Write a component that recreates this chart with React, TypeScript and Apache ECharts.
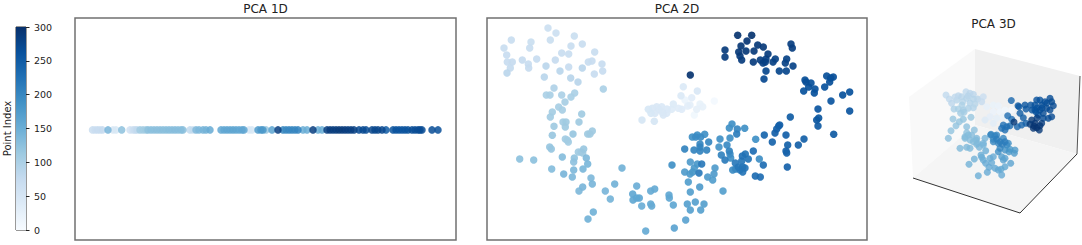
import React, { useEffect, useRef } from "react";
import * as echarts from "echarts";

const blues = ["#f7fbff", "#deebf7", "#c6dbef", "#9ecae1", "#6baed6", "#4292c6", "#2171b5", "#08519c", "#08306b"];
const colorbarTicks = [0, 50, 100, 150, 200, 250, 300];

// [position along PC1, point index]
const pca1d = [
  [17.5, 70], [20, 65], [22.5, 72], [25, 68], [27.5, 74], [33, 140], [38, 45], [41, 48], [46.7, 125],
  [55, 60], [58, 66], [60, 72], [62, 80], [65, 110], [68, 108], [71, 112], [73, 125], [76, 127], [79, 124],
  [82, 128], [85, 126], [88, 129], [91, 127], [94, 130], [97, 128], [100, 131], [103, 127], [106, 130], [108, 128],
  [115, 80], [118, 70], [121, 135], [124, 138], [128, 142], [131, 145], [135, 155],
  [146, 160], [149, 158], [152, 162], [155, 160], [158, 163], [161, 160], [164, 158], [167, 162], [169, 160],
  [174, 45], [177, 48], [183, 175], [186, 178], [188, 180], [191, 115],
  [197, 165], [203, 285], [208, 200], [211, 198], [214, 202], [217, 200], [220, 197], [223, 203],
  [228, 150], [232, 152], [238, 285], [243, 150], [247, 152],
  [252, 285], [255, 288], [258, 283], [261, 286], [264, 290], [267, 284], [270, 287], [273, 282], [276, 285], [279, 280],
  [284, 270], [288, 272], [291, 268], [297, 275], [300, 272], [303, 276], [307, 274], [311, 250],
  [318, 260], [321, 262], [324, 258], [327, 261], [330, 259], [333, 263],
  [337, 268], [340, 266], [343, 270], [345, 267], [347, 269], [357, 268], [363, 265],
];

// [PC1, PC2, point index]
const pca2dCentre = [
  [227.3, 139, 6], [207.3, 125, 10], [198, 140, 16], [213, 136, 22], [215.7, 133.3, 24], [209.7, 130.7, 26], [203, 135, 28],
  [200.7, 134, 30], [204.7, 142.3, 32], [194.7, 130.7, 34], [191.3, 131.7, 36], [184.7, 130.7, 38], [186.3, 136, 40],
  [196.3, 153.3, 42], [194, 144.3, 42], [210.3, 149, 46], [179.7, 126.7, 44], [176.3, 125, 46], [174.7, 133.3, 44],
  [169.7, 133.3, 46], [172, 130.7, 46], [168, 126.7, 46], [165.3, 131.7, 46], [164, 126.7, 48], [161.3, 130.7, 48],
  [180, 131, 44], [175, 128, 46], [167.3, 118.7, 50], [155, 120, 50],
];
const pca2dUpperLeft = [
  [61, 212, 66], [69, 207, 66], [87.3, 204, 68], [24.3, 200, 70], [44, 198, 68], [63.3, 200, 68], [42.7, 192, 70],
  [84, 194, 70], [95.3, 196, 70], [17, 192, 70], [74.7, 187, 70], [81.7, 186, 70], [107.7, 188, 70], [19.7, 185, 72],
  [35.3, 180, 74], [49.7, 181, 72], [68.3, 180, 74], [20.3, 178, 72], [25.3, 178, 74], [41.3, 176, 72], [59, 174, 85],
  [101.3, 178, 72], [105, 179, 72], [115, 176, 72], [41.7, 172, 74], [23.3, 172, 76], [81.7, 173, 72], [95.3, 172, 85],
  [20, 167, 85], [73, 169, 86], [115.7, 169, 72], [107.3, 166, 72], [57.3, 163, 86], [83.7, 162, 88], [91, 158, 88],
  [67, 152, 96], [116.3, 151, 100], [59.3, 145, 100], [63, 145, 102], [74.7, 145, 100], [87.7, 147, 100], [84, 143, 102],
  [78, 138, 104], [71.7, 133, 104], [75.3, 130, 104], [65.3, 128, 106], [63.3, 123, 108], [94.7, 126, 110],
  [76, 118, 108], [79, 118, 110], [92, 118, 112],
];
const pca2dLowerLeft = [
  [67, 113.7, 112], [78.3, 113, 112], [65.3, 104.7, 116], [86, 106, 118], [100.7, 106, 112], [103, 106, 112], [105.3, 109, 112],
  [78.3, 101, 108], [80.3, 100, 108], [81.3, 98, 108], [62.7, 93, 118], [64.3, 91, 118], [96.7, 91, 116], [91.3, 88, 110],
  [94, 88, 110], [95.7, 87, 112], [32.7, 81, 125], [46.7, 80, 125], [75.3, 83, 130], [87.3, 82, 122], [86.7, 78, 124],
  [99.3, 82, 135], [100.7, 76, 138], [64.7, 71, 130], [86.7, 70, 135], [96, 71, 138], [135, 72, 145], [185, 75, 190],
  [76.7, 66, 140], [85.3, 63, 135], [104, 62, 135], [105.3, 56, 140], [127.7, 56, 145], [149.7, 54, 150], [95.7, 53, 140],
  [92, 49, 135], [118.3, 49, 140], [167.7, 51, 155], [163.7, 49, 155], [145.7, 46, 158], [146, 40, 158], [149.7, 42, 160],
  [152.3, 42, 160], [182, 45, 160], [182.3, 42, 160], [123.3, 41, 142], [163.7, 36, 155], [164.7, 34, 155], [154.7, 34, 150],
  [186.3, 35, 160], [106.3, 28, 145], [101, 21, 145], [187.3, 12, 165], [158.7, 9, 155],
];
const pca2dMiddle = [
  [245, 116, 190], [250.3, 111, 200], [257.7, 111.7, 190], [242.3, 112, 190], [249.7, 106, 210], [243, 102, 190], [233, 101, 190],
  [205.3, 103, 190], [210.3, 105, 190], [217.7, 105.7, 190], [208.7, 103, 195], [213.7, 103, 195], [221.7, 98, 200],
  [213, 96, 200], [213, 93, 205], [197.7, 91, 205], [207, 90, 205], [213, 89, 205], [219.7, 90, 205], [232, 93, 185],
  [240, 95, 195], [242.3, 89, 205], [243, 86, 195], [266.3, 89, 228], [234.3, 85, 205], [238, 80, 212], [258.3, 86, 222],
  [255.3, 84, 225], [261.3, 81, 222], [243.7, 82, 190], [272.3, 81, 192], [248.3, 77, 215], [254.7, 79, 218], [251.3, 73, 218],
  [255.7, 73, 220], [258, 72, 222], [248.7, 71, 200], [253, 70, 215], [245.7, 70, 195], [255.7, 68, 220], [276.3, 75, 230],
  [203.3, 78, 175], [214.7, 76, 215], [210.3, 76, 180], [228, 72, 175], [207.3, 72, 178], [205.7, 68, 180], [203, 66, 178],
  [197.7, 68, 175], [212, 67, 215], [227, 66, 175], [220.7, 63, 175], [225.7, 60, 172], [268.3, 64, 230], [273.3, 63, 230],
  [201.3, 58, 172], [212.7, 53, 175], [203.3, 48, 170], [236, 49, 170], [208.3, 38, 168], [200.3, 36, 168], [217, 36, 170],
  [203.3, 30, 168], [213.7, 30, 168], [198.7, 20, 165],
];
const pca2dRight = [
  [300.3, 73, 242], [292.7, 115, 245], [291.7, 114, 245], [289.7, 111, 245], [288, 107, 245], [277.3, 105, 238], [299, 105, 245],
  [285.3, 98, 240], [268.7, 100.7, 190], [317, 101, 246], [311.3, 95, 246], [300.7, 95, 244], [299, 89, 242], [299.7, 87, 242],
  [346.7, 105.7, 252], [331, 114, 252], [331, 131, 258], [362.7, 129, 258], [303.3, 123, 250], [331.7, 122, 256], [329.7, 120, 256],
  [344, 139, 258], [362.7, 148, 262], [355.7, 145, 262], [337.7, 153, 262], [339.7, 164, 265], [346.3, 163, 265], [343.7, 162, 265],
  [342.7, 158, 265], [316.7, 149, 262], [327.3, 147, 262], [328, 151, 262], [321.7, 153, 264], [324, 157, 264], [319, 158, 266],
  [318, 160, 266],
];
const pca2dTop = [
  [277, 161, 272], [279, 169, 275], [292.3, 169, 275], [299.3, 169, 275], [306, 174, 278], [298.3, 177, 280], [299.7, 181, 280],
  [286, 178, 280], [288.3, 181, 280], [278.3, 178, 282], [276, 177, 282], [279, 181, 282], [273.3, 180, 284], [266.3, 178, 286],
  [281, 186, 286], [254.7, 180, 286], [253, 184, 288], [238, 183, 286], [267, 189, 288], [259, 189, 290], [251.7, 188, 290],
  [238, 190, 288], [305.3, 192, 284], [304, 196, 284], [276.3, 193, 290], [270.7, 195, 290], [254, 194, 292], [260, 199, 294],
  [264.7, 204.7, 296], [250.7, 204.7, 296], [203.3, 165, 296],
];

// [projected horizontal, projected vertical, point index]
const pca3dUpperLeft = [
  [41, 125, 80], [44.3, 121, 82], [46.7, 116.7, 85], [53.3, 124.3, 85], [56.7, 123.3, 88], [61, 128.3, 80], [65, 126.7, 85],
  [68.3, 125.7, 85], [57.7, 118.3, 90], [61.7, 121.7, 92], [68.3, 121, 92], [72.7, 121, 88], [78.3, 123.3, 70], [76.7, 118.3, 75],
  [51.7, 120, 90], [49, 111, 100], [53.3, 111, 102], [58.3, 110, 105], [63.3, 111.7, 100], [68.3, 112.3, 95], [55.7, 106.7, 110],
  [59, 107.7, 108], [65, 117, 95], [57, 115, 98], [70, 116, 90], [50, 123, 82], [63, 124, 88],
];
const pca3dCentre = [
  [81.7, 113.3, 25], [88.3, 115, 22], [93.3, 114.3, 20], [88.3, 108.3, 18], [95, 108.3, 15], [100, 110, 12], [85, 103.3, 30],
  [91.7, 101.7, 28], [98.3, 103.3, 22], [80, 100, 40], [88.3, 96.7, 35], [106.7, 110, 8], [103.3, 100, 12],
];
const pca3dLowerLeft = [
  [48, 101, 118], [58.3, 100.7, 120], [54.3, 98.3, 120], [66, 102.7, 118], [51, 94.3, 122], [46, 89.3, 122], [61.7, 93.3, 125],
  [61.7, 87.3, 125], [43.3, 81.7, 128], [63.3, 85, 130], [66.7, 85, 130], [60, 83.3, 130], [65, 80, 130], [71, 80, 135],
  [71.7, 75.7, 135], [69.3, 90, 125], [71.7, 81.7, 135], [68.3, 78.3, 132], [60, 81.7, 132], [72.7, 76.7, 135], [78.3, 75, 138],
  [74.3, 72.7, 138], [55, 71.7, 135], [61.7, 72.7, 135], [65, 71.7, 135], [80, 81.7, 140], [78.3, 76.7, 140],
];
const pca3dLowerMiddle = [
  [80.7, 69.3, 150], [69.3, 61, 145], [64, 55.7, 145], [76, 65, 150], [78.3, 60, 150], [85, 61.7, 152], [88.3, 63.3, 155],
  [76.7, 62.7, 150], [80.7, 56.7, 155], [86.7, 57.3, 155], [84, 52.7, 155], [90, 51.7, 158], [98.3, 60, 165], [96.7, 63.3, 170],
  [100, 61.7, 165], [105.7, 56.7, 165], [100, 53.3, 160], [96, 50.7, 160], [82.3, 47.7, 155], [73.3, 44.3, 150], [96.7, 45, 155],
  [93.3, 50, 158],
];
const pca3dMiddle = [
  [110, 70, 175], [109.3, 66.7, 175], [105, 70.7, 180], [104, 68.3, 180], [100, 70, 185], [93.3, 68.3, 190], [103.3, 76.7, 190],
  [86, 85.7, 195], [88.3, 80.7, 195], [101.7, 75, 195], [91.7, 85, 200], [95, 71.7, 200], [88.3, 78.3, 200], [98.3, 81.7, 205],
  [93.3, 76.7, 205], [85.7, 85, 205], [90, 84.3, 205], [97.3, 75.7, 210], [91.7, 81, 210], [95, 78.3, 210], [100, 78.3, 212],
];
const pca3dRight = [
  [98.3, 95, 225], [101.7, 93.3, 225], [96.7, 91.7, 225], [102.7, 104.3, 228], [106.7, 100.7, 228], [100, 90, 228], [105, 94.3, 232],
  [106.3, 119.5, 235], [112.3, 93.3, 235], [116.7, 95, 240], [121, 96.7, 245], [113, 114.3, 250], [115, 106.7, 250], [118.3, 102.3, 250],
  [114, 113.3, 255], [121, 111, 255], [120, 115, 258], [125.7, 115, 258], [127, 110, 258], [131.7, 120, 262], [135, 120, 262],
  [130, 115, 262], [130, 110, 262], [133.3, 105, 262], [132, 112, 262], [131, 108, 262], [136.7, 115, 265], [140, 118.3, 265],
  [135, 110, 265], [137, 112, 265], [142, 117, 265], [145, 121.7, 268], [146.7, 118.3, 268], [141.7, 111.7, 268], [138.3, 106.7, 268],
  [143.3, 101.7, 268], [138.3, 101.7, 268], [148.3, 114.3, 270], [145, 110, 270], [146.7, 103.3, 270],
];
const pca3dNavy = [
  [109, 98, 290], [132, 102, 285], [136.7, 96.7, 285], [126.7, 100, 290], [125, 95.7, 290], [134.3, 90, 290], [130, 96.7, 292],
  [135, 94.3, 292], [128.3, 91.7, 292], [131.7, 92.3, 295], [129, 94, 295],
];

export default function App() {
  const ref = useRef<HTMLDivElement>(null);
  useEffect(() => {
    const chart = echarts.init(ref.current!, undefined, { renderer: "svg" });
    const font = "'DejaVu Sans'";
    const titleStyle = { fontFamily: font, fontSize: 12, fontWeight: "normal", color: "#222" };
    const box = { show: true, borderColor: "#707070", borderWidth: 1.5, backgroundColor: "#fff" };
    const hiddenAxis = (extra: object) => ({ show: false, ...extra });
    const scatter = (xAxisIndex: number, data: number[][], symbolSize: number, opacity: number) => ({
      type: "scatter",
      xAxisIndex,
      yAxisIndex: xAxisIndex,
      data,
      symbolSize,
      itemStyle: { opacity },
      silent: true,
      z: 3,
    });
    const by = (rows: number[][], idx: number) => [...rows].sort((a, b) => a[idx] - b[idx]);
    const pca2d = by(
      [...pca2dCentre, ...pca2dUpperLeft, ...pca2dLowerLeft, ...pca2dMiddle, ...pca2dRight, ...pca2dTop],
      2,
    );
    const pca1dRows = by(pca1d.map(([x, i]) => [x, -0.008, i]), 2);
    const pca3d = [
      ...pca3dCentre, ...pca3dUpperLeft, ...pca3dLowerLeft, ...pca3dLowerMiddle, ...pca3dMiddle, ...pca3dRight, ...pca3dNavy,
    ];
    const stops = blues.map((color, i) => ({ offset: 1 - i / (blues.length - 1), color })).reverse();
    chart.setOption({
      animation: false,
      backgroundColor: "#fff",
      textStyle: { fontFamily: font },
      title: [
        { text: "PCA 1D", left: 260.5, top: -2, textAlign: "center", textStyle: titleStyle },
        { text: "PCA 2D", left: 672, top: -2, textAlign: "center", textStyle: titleStyle },
        { text: "PCA 3D", left: 988.5, top: 13, textAlign: "center", textStyle: titleStyle },
      ],
      grid: [
        { left: 16, top: 27, width: 10, height: 203, show: true, borderColor: "#333", borderWidth: 1 },
        { left: 75, top: 18, width: 381, height: 222, ...box },
        { left: 487, top: 18, width: 380, height: 222, ...box },
        { left: 905, top: 40, width: 177, height: 180, show: false },
      ],
      xAxis: [
        { type: "category", gridIndex: 0, data: ["Point Index"], show: false },
        hiddenAxis({ type: "value", gridIndex: 1, min: 0, max: 381 }),
        hiddenAxis({ type: "value", gridIndex: 2, min: 0, max: 380 }),
        hiddenAxis({ type: "value", gridIndex: 3, min: 0, max: 177 }),
      ],
      yAxis: [
        {
          type: "value", gridIndex: 0, min: 0, max: 300, interval: 50, position: "right",
          axisLine: { show: false },
          axisTick: { show: true, length: 3.5, lineStyle: { color: "#222", width: 1 } },
          axisLabel: { fontFamily: font, fontSize: 9.5, color: "#222", margin: 8, formatter: (v: number) => (colorbarTicks.includes(v) ? String(v) : "") },
          splitLine: { show: false },
        },
        hiddenAxis({ type: "value", gridIndex: 1, min: -1, max: 1 }),
        hiddenAxis({ type: "value", gridIndex: 2, min: 0, max: 222 }),
        hiddenAxis({ type: "value", gridIndex: 3, min: 0, max: 180 }),
        {
          type: "value", gridIndex: 0, min: 0, max: 300, position: "left", name: "Point Index", nameLocation: "middle",
          nameRotate: 90, nameGap: 4, nameTextStyle: { fontFamily: font, fontSize: 10, color: "#222" },
          axisLine: { show: false }, axisTick: { show: false }, axisLabel: { show: false }, splitLine: { show: false },
        },
      ],
      visualMap: {
        show: false, type: "continuous", min: 0, max: 300, dimension: 2, seriesIndex: [1, 2, 3], inRange: { color: blues },
      },
      graphic: [
        { type: "polygon", z: 0, shape: { points: [[909, 97], [975, 49], [975, 125], [913, 178]] }, style: { fill: "#f9f9f9" } },
        { type: "polygon", z: 0, shape: { points: [[975, 49], [1080, 76], [1077, 154], [975, 125]] }, style: { fill: "#f0f0f0" } },
        { type: "polygon", z: 0, shape: { points: [[913, 178], [975, 125], [1077, 154], [1020, 213]] }, style: { fill: "#f5f5f5" } },
        { type: "polyline", z: 1, shape: { points: [[913, 178], [1020, 213], [1077, 154]] }, style: { stroke: "#333", lineWidth: 1, fill: "none" } },
        { type: "line", z: 1, shape: { x1: 1077, y1: 154, x2: 1080, y2: 76 }, style: { stroke: "#555", lineWidth: 1 } },
      ],
      series: [
        {
          type: "bar", xAxisIndex: 0, yAxisIndex: 0, data: [300], barWidth: 10, silent: true, z: 1,
          itemStyle: { color: new echarts.graphic.LinearGradient(0, 0, 0, 1, stops) },
        },
        scatter(1, pca1dRows, 7.5, 0.85),
        scatter(2, pca2d, 7.5, 0.92),
        scatter(3, pca3d, 7, 0.8),
      ],
    });
    return () => chart.dispose();
  }, []);
  return <div ref={ref} style={{ position: "fixed", left: 0, top: 0, width: 1082, height: 245 }} />;
}
